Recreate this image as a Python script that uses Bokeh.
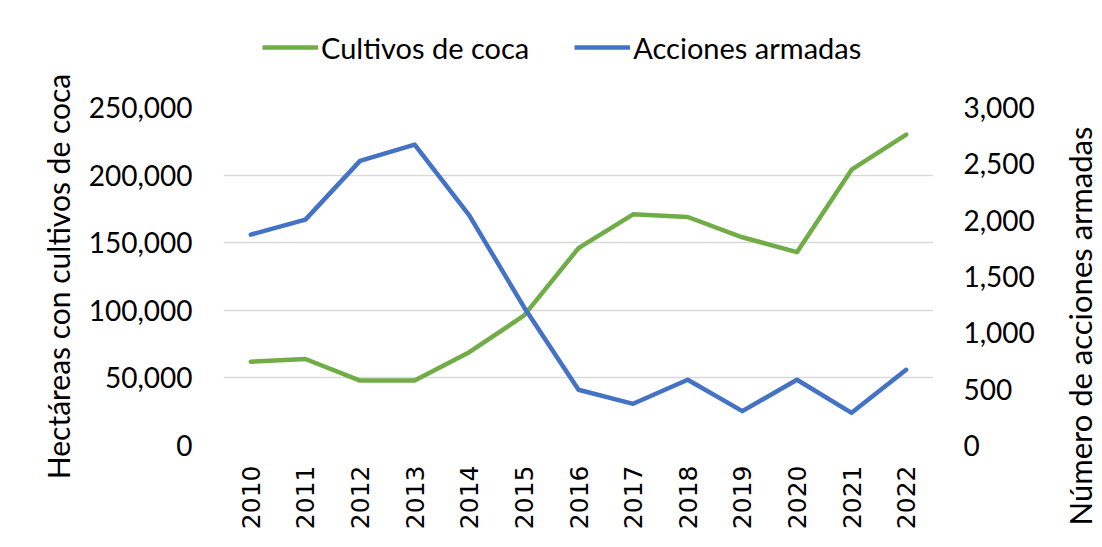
import math
from bokeh.plotting import figure
from bokeh.layouts import column, row
from bokeh.models import (Range1d, LinearAxis, FixedTicker, NumeralTickFormatter,
                          Legend, LegendItem, FactorRange, ColumnDataSource, Title)
from bokeh.embed import file_html
from bokeh.resources import INLINE

# ---- data ----
years = [str(y) for y in range(2010, 2023)]
coca = [62000, 64000, 48000, 48000, 69000, 96000, 146000, 171000, 169000, 154000, 143000, 204000, 230000]
acciones = [1872, 2005, 2526, 2671, 2043, 1230, 495, 370, 584, 305, 584, 290, 672]
left_ticks = [0, 50000, 100000, 150000, 200000, 250000]
right_ticks = [0, 500, 1000, 1500, 2000, 2500, 3000]
series_names = ["Cultivos de coca", "Acciones armadas"]
left_title = "Hectáreas con cultivos de coca"
right_title = "Número de acciones armadas"

GREEN = "#70ad47"
BLUE = "#4472c4"
GRID = "#d9d9d9"
FONT = "Lato"
LW = 4.5

src = ColumnDataSource(dict(year=years, coca=coca, acc=acciones))

MAIN_W, SIDE_W = 1058, 44
TOP_H, MAIN_H = 70, 477
BL, BR, BT, BB = 223, 125, 37, 102

# ---------- main chart ----------
p = figure(width=MAIN_W, height=MAIN_H,
           x_range=FactorRange(factors=years),
           y_range=Range1d(0, 250000),
           output_backend="svg", toolbar_location=None,
           min_border_left=BL, min_border_right=BR,
           min_border_top=BT, min_border_bottom=BB)
p.extra_y_ranges = {"acc": Range1d(0, 3000)}
p.outline_line_color = None
p.background_fill_color = "white"
p.border_fill_color = "white"

p.xgrid.visible = False
p.ygrid.ticker = FixedTicker(ticks=left_ticks)
p.ygrid.grid_line_color = GRID
p.ygrid.grid_line_width = 1.5

def style_axis(ax, title_size="30px"):
    ax.axis_line_color = None
    ax.major_tick_line_color = None
    ax.minor_tick_line_color = None
    ax.major_tick_in = 0
    ax.major_tick_out = 0
    ax.major_label_text_font = FONT
    ax.major_label_text_font_size = "28px"
    ax.major_label_text_color = "black"
    ax.axis_label_text_font = FONT
    ax.axis_label_text_font_size = title_size
    ax.axis_label_text_font_style = "normal"
    ax.axis_label_text_color = "black"

ly = p.yaxis[0]
style_axis(ly, "30px")
ly.ticker = FixedTicker(ticks=left_ticks)
ly.formatter = NumeralTickFormatter(format="0,0")
ly.major_label_standoff = 31
ly.axis_label = left_title
ly.axis_label_standoff = 10

ry = LinearAxis(y_range_name="acc")
style_axis(ry)
ry.ticker = FixedTicker(ticks=right_ticks)
ry.formatter = NumeralTickFormatter(format="0,0")
ry.major_label_standoff = 30
p.add_layout(ry, "right")

bx = p.xaxis[0]
style_axis(bx)
bx.major_label_orientation = math.pi / 2
bx.major_label_standoff = 20
bx.major_label_text_font = "DejaVu Sans"
bx.major_label_text_font_size = "25px"

p.line("year", "coca", source=src, line_color=GREEN, line_width=LW,
       line_cap="round", line_join="round")
p.line("year", "acc", source=src, y_range_name="acc", line_color=BLUE,
       line_width=LW, line_cap="round", line_join="round")

# ---------- right-hand title strip (reads bottom-to-top) ----------
side = figure(width=SIDE_W, height=MAIN_H, x_range=Range1d(0, 1), y_range=Range1d(0, 1),
              output_backend="svg", toolbar_location=None,
              x_axis_location=None, y_axis_location=None,
              min_border_left=0, min_border_right=0,
              min_border_top=BT, min_border_bottom=BB)
side.outline_line_color = None
side.grid.visible = False
side.border_fill_color = "white"
side.background_fill_color = "white"
side.add_layout(Title(text=right_title, align="left", offset=-80, standoff=0,
                      text_font=FONT, text_font_size="31px",
                      text_font_style="normal", text_color="black"), "left")

# ---------- legend strip ----------
top = figure(width=MAIN_W, height=TOP_H, x_range=FactorRange(factors=years),
             y_range=Range1d(-2, -1),
             output_backend="svg", toolbar_location=None,
             x_axis_location=None, y_axis_location=None,
             min_border_left=BL, min_border_right=BR, min_border_top=0, min_border_bottom=0)
top.outline_line_color = None
top.grid.visible = False
top.border_fill_color = "white"
top.background_fill_color = "white"
# same series; the range keeps them out of view, they only feed the legend swatches
g1 = top.line("year", "coca", source=src, line_color=GREEN, line_width=LW)
g2 = top.line("year", "acc", source=src, line_color=BLUE, line_width=LW)

legend = Legend(items=[LegendItem(label=series_names[0], renderers=[g1]),
                       LegendItem(label=series_names[1], renderers=[g2])],
                location=(39, 5), orientation="horizontal",
                glyph_width=56, glyph_height=36, label_height=36,
                label_standoff=3, spacing=45,
                padding=0, margin=0, border_line_color=None,
                background_fill_alpha=0,
                label_text_font=FONT, label_text_font_size="29px",
                label_text_color="black")
top.add_layout(legend)

layout = column(top, row(p, side, spacing=0), spacing=0)
open("out.html", "w").write(file_html(layout, INLINE))
